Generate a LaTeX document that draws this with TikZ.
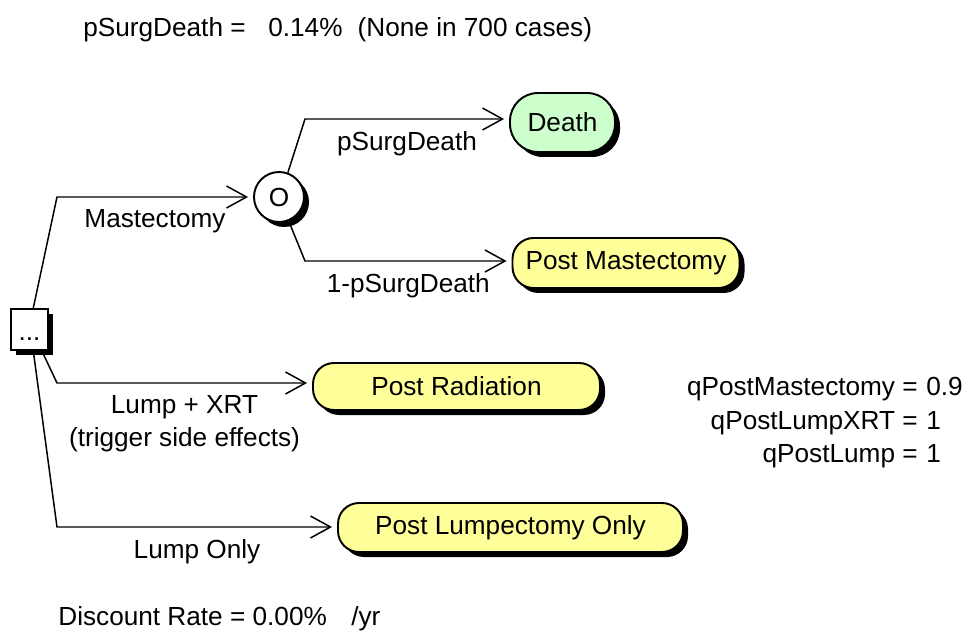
\documentclass[tikz,border=0pt]{standalone}
\usepackage{fontspec}
\setmainfont{Liberation Sans}
\usepackage{tikz}
\usetikzlibrary{arrows.meta}
\usetikzlibrary{shadows}

\definecolor{deathgreen}{RGB}{204,255,204}
\definecolor{termyellow}{RGB}{255,255,153}

\begin{document}
\begin{tikzpicture} [every node/.style={font=\fontsize{14.9pt}{18.7pt}\selectfont},
        shade/.style={drop shadow={fill=black, opacity=1, shadow xshift=0.1cm, shadow yshift=-0.1cm}},
        decbox/.style={draw, line width=1.1pt, fill=white, shade, minimum width=0.74cm, minimum height=0.82cm, inner sep=0pt, text height=13pt, text depth=0pt},
        chancenode/.style={draw, circle, line width=1.1pt, fill=white, shade, minimum size=1.0cm, inner sep=0pt},
        terminal/.style={draw, line width=1.1pt, fill=termyellow, shade, rounded corners=0.42cm, inner sep=0pt},
        lbl/.style={inner xsep=0pt, inner ysep=6.5pt},
        plain/.style={inner sep=0pt}]
            \useasboundingbox (0,0) rectangle (19.42,-12.62);

            \node[decbox] (dec) at (0.59,-6.59) {...};
            \node[chancenode] (chance) at (5.58,-3.94) {O};
            \node[terminal, fill=deathgreen, rounded corners=0.56cm, minimum width=2.1cm, minimum height=1.18cm] (death) at (11.25,-2.45) {Death};
            \node[terminal, minimum width=4.54cm, minimum height=1.0cm] (postmast) at (12.52,-5.26) {Post Mastectomy};
            \node[terminal, minimum width=5.74cm, minimum height=0.94cm] (postrad) at (9.13,-7.73) {Post Radiation};
            \node[terminal, minimum width=6.9cm, minimum height=0.98cm] (postlump) at (10.21,-10.55) {Post Lumpectomy Only};

            \coordinate (k1) at (1.14,-3.94);
            \coordinate (k2) at (6.1,-2.38);
            \coordinate (k3) at (6.1,-5.22);
            \coordinate (k4) at (1.14,-7.66);
            \coordinate (k5) at (1.14,-10.54);

            \begin{scope}[line width=0.85pt, -{Straight Barb[length=0.4cm, width=0.44cm]}, shorten >=0.1cm]
                \draw (dec.80) -- (k1) -- (chance.west) node [midway, below, lbl] {Mastectomy};
                \draw (chance.70) -- (k2) -- (k2 -| death.west) node [midway, below, lbl] {pSurgDeath};
                \draw (chance.-68) -- (k3) -- (k3 -| postmast.west) node [midway, below, lbl] {1-pSurgDeath};
                \draw (dec.-60) -- (k4) -- (k4 -| postrad.west) node [midway, below, lbl, align=center] {Lump + XRT\\(trigger side effects)};
                \draw (dec.-80) -- (k5) -- (k5 -| postlump.west) node [midway, below, lbl] {Lump Only};
            \end{scope}

            \node[plain, anchor=base west] (psdname) at (1.66,-0.74) {pSurgDeath =};
            \node[plain, anchor=base west] (psdval) at (5.36,-0.74) {0.14\%\hspace{0.3em} (None in 700 cases)};

            \node[plain, anchor=base east] (qmname) at (18.36,-7.9) {qPostMastectomy =};
            \node[plain, anchor=base west] (qmval) at (18.52,-7.9) {0.9};
            \node[plain, anchor=base east] (qxname) at (18.36,-8.58) {qPostLumpXRT =};
            \node[plain, anchor=base west] (qxval) at (18.52,-8.58) {1};
            \node[plain, anchor=base east] (qlname) at (18.36,-9.24) {qPostLump =};
            \node[plain, anchor=base west] (qlval) at (18.52,-9.24) {1};

            \node[plain, anchor=base west] (discname) at (1.16,-12.5) {Discount Rate = 0.00\%};
            \node[plain, anchor=base west] (discunit) at (7.02,-12.5) {/yr};
        \end{tikzpicture}
\end{document}
